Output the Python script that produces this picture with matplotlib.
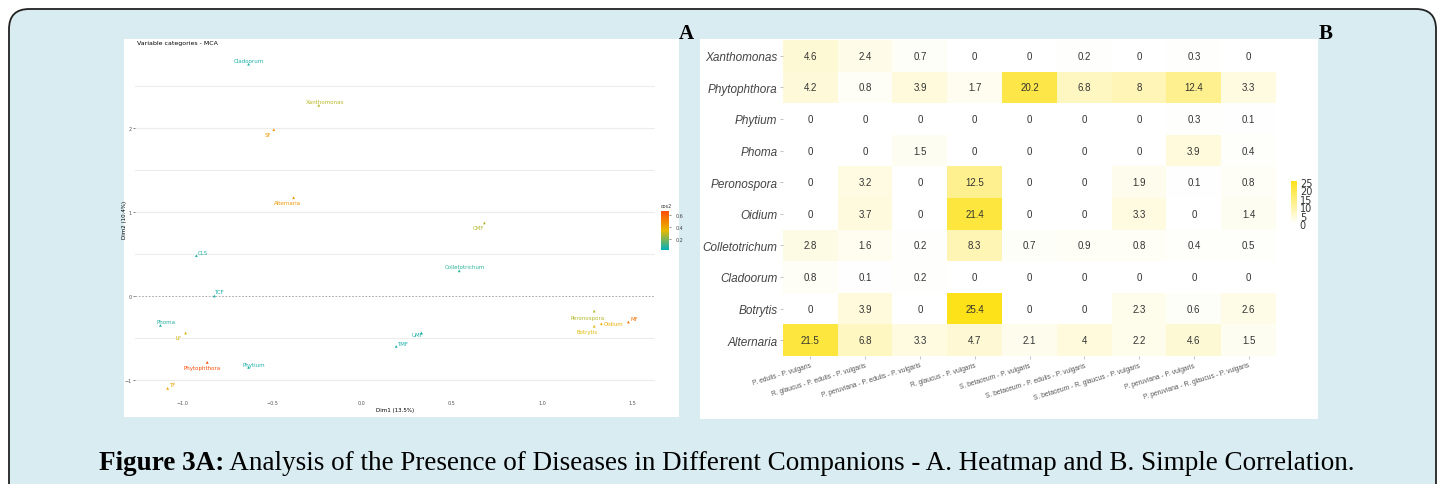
import numpy as np
import matplotlib
matplotlib.use('Agg')
import matplotlib.pyplot as plt
from matplotlib.colors import LinearSegmentedColormap, Normalize
from matplotlib.patches import FancyBboxPatch, Rectangle

# ---- data: MCA variable categories (panel A) ----
mca_names = ['Cladoorum', 'Xanthomonas', 'SF', 'Alternaria', 'CMF', 'CLS', 'TCF',
             'Colletotrichum', 'Phoma', 'LF', 'Phytophthora', 'Phytium', 'TF',
             'UMF', 'TMF', 'Peronospora', 'Oidium', 'Botrytis', 'MF']
mca_dim1 = [-0.63, -0.24, -0.49, -0.38, 0.68, -0.92, -0.82, 0.54, -1.12, -0.98,
            -0.86, -0.63, -1.08, 0.33, 0.19, 1.29, 1.33, 1.29, 1.48]
mca_dim2 = [2.76, 2.27, 1.98, 1.17, 0.87, 0.48, 0.00, 0.30, -0.35, -0.44,
            -0.79, -0.85, -1.10, -0.44, -0.60, -0.18, -0.33, -0.36, -0.31]
mca_cos2 = [0.06, 0.28, 0.44, 0.45, 0.27, 0.07, 0.05, 0.08, 0.07, 0.32,
            0.67, 0.06, 0.40, 0.06, 0.05, 0.27, 0.37, 0.34, 0.56]

# ---- data: heatmap (panel B) ----
diseases = ['Xanthomonas', 'Phytophthora', 'Phytium', 'Phoma', 'Peronospora',
            'Oidium', 'Colletotrichum', 'Cladoorum', 'Botrytis', 'Alternaria']
companions = ['P. edulis - P. vulgaris',
              'R. glaucus - P. edulis - P. vulgaris',
              'P. peruviana - P. edulis - P. vulgaris',
              'R. glaucus - P. vulgaris',
              'S. betaceum - P. vulgaris',
              'S. betaceum - P. edulis - P. vulgaris',
              'S. betaceum - R. glaucus - P. vulgaris',
              'P. peruviana - P. vulgaris',
              'P. peruviana - R. glaucus - P. vulgaris']
presence = [
    [4.6, 2.4, 0.7, 0, 0, 0.2, 0, 0.3, 0],
    [4.2, 0.8, 3.9, 1.7, 20.2, 6.8, 8, 12.4, 3.3],
    [0, 0, 0, 0, 0, 0, 0, 0.3, 0.1],
    [0, 0, 1.5, 0, 0, 0, 0, 3.9, 0.4],
    [0, 3.2, 0, 12.5, 0, 0, 1.9, 0.1, 0.8],
    [0, 3.7, 0, 21.4, 0, 0, 3.3, 0, 1.4],
    [2.8, 1.6, 0.2, 8.3, 0.7, 0.9, 0.8, 0.4, 0.5],
    [0.8, 0.1, 0.2, 0, 0, 0, 0, 0, 0],
    [0, 3.9, 0, 25.4, 0, 0, 2.3, 0.6, 2.6],
    [21.5, 6.8, 3.3, 4.7, 2.1, 4, 2.2, 4.6, 1.5],
]

W, H = 1442, 485
BG = '#d8ecf1'


def rect(x0, y0, x1, y1):
    """pixel box (top-left origin) -> figure fraction [l, b, w, h]"""
    return [x0 / W, 1 - y1 / H, (x1 - x0) / W, (y1 - y0) / H]


fig = plt.figure(figsize=(W / 100, H / 100), dpi=100)
fig.patch.set_facecolor('white')

# rounded frame + white panel backgrounds (behind the axes)
frame = FancyBboxPatch((9 / W, -0.05), 1427 / W, 1 - 10 / H + 0.05,
                       boxstyle='round,pad=0,rounding_size=0.014',
                       transform=fig.transFigure, facecolor=BG, edgecolor='#222222',
                       linewidth=1.3, mutation_aspect=W / H, zorder=-3)
fig.patches.append(frame)
for box in [(124, 40, 679, 418), (700, 40, 1318, 420)]:
    l, b, w, h = rect(*box)
    fig.patches.append(Rectangle((l, b), w, h, transform=fig.transFigure,
                                 facecolor='white', edgecolor='none', zorder=-2))

# ---------------- panel A : MCA ----------------
ax = fig.add_axes(rect(135, 40, 655, 400))
ax.set_xlim((135 - 362) / 180, (655 - 362) / 180)
ax.set_ylim((297 - 400) / 84, (297 - 40) / 84)
for s in ax.spines.values():
    s.set_visible(False)
for yv in [-1, -0.5, 0.5, 1, 1.5, 2, 2.5]:
    ax.axhline(yv, color='#ececec', lw=0.8, zorder=0)
ax.axhline(0, color='#9a9a9a', lw=0.6, ls=(0, (2, 2)), zorder=1)

cmap_a = LinearSegmentedColormap.from_list('fviz', ['#00AFBB', '#E7B800', '#FC4E07'])
norm_a = Normalize(0.02, 0.67)
cols = cmap_a(norm_a(np.array(mca_cos2)))
ax.scatter(mca_dim1, mca_dim2, c=cols, marker='^', s=4, linewidths=0, zorder=3)

label_offsets = {'Cladoorum': (0, 4), 'Xanthomonas': (6, 4), 'SF': (-6, -5),
                 'Alternaria': (-6, -5), 'CMF': (-6, -5), 'CLS': (6, 3), 'TCF': (5, 4),
                 'Colletotrichum': (6, 4), 'Phoma': (6, 4), 'LF': (-7, -5),
                 'Phytophthora': (-5, -5), 'Phytium': (5, 3), 'TF': (5, 4),
                 'UMF': (-4, -2), 'TMF': (6, 3), 'Peronospora': (-7, -6),
                 'Oidium': (12, 0), 'Botrytis': (-7, -5), 'MF': (6, 4)}
for name, x, y, c in zip(mca_names, mca_dim1, mca_dim2, cols):
    ox, oy = label_offsets[name]
    ax.annotate(name, (x, y), xytext=(ox, oy), textcoords='offset pixels',
                ha='center', va='center', fontsize=4, color=c, zorder=4)

ax.set_xticks([-1.0, -0.5, 0.0, 0.5, 1.0, 1.5])
ax.set_yticks([-1, 0, 1, 2])
ax.tick_params(labelsize=3.5, colors='#555555', length=1.5, width=0.5, pad=1)
ax.tick_params(axis='x', length=0)
ax.set_xlabel('Dim1 (13.5%)', fontsize=4, labelpad=1)
ax.set_ylabel('Dim2 (10.4%)', fontsize=4)
ax.yaxis.set_label_coords(-8 / 520, 0.5)
fig.text(137 / W, 1 - 43 / H, 'Variable categories - MCA', fontsize=4.5, va='center')

cax_a = fig.add_axes(rect(661, 212, 669, 251))
cb_a = fig.colorbar(plt.cm.ScalarMappable(norm=norm_a, cmap=cmap_a), cax=cax_a)
cb_a.set_ticks([0.2, 0.4, 0.6])
cb_a.outline.set_visible(False)
cax_a.tick_params(labelsize=3.5, length=1.5, width=0.4, colors='#444444')
fig.text(661 / W, 1 - 207 / H, 'cos2', fontsize=3.5, va='center', color='#333333')

# ---------------- panel B : heatmap ----------------
hx = fig.add_axes(rect(783, 41, 1276, 357))
data = np.array(presence)
cmap_b = LinearSegmentedColormap.from_list('wy', ['#ffffff', '#fde21a'])
im = hx.imshow(data, cmap=cmap_b, vmin=0, vmax=data.max(), aspect='auto')
for i in range(data.shape[0]):
    for j in range(data.shape[1]):
        hx.text(j, i, f'{data[i, j]:g}', ha='center', va='center', fontsize=7,
                color='#333333', family='Liberation Sans')
for s in hx.spines.values():
    s.set_visible(False)
hx.set_yticks(range(len(diseases)))
hx.set_yticklabels(diseases, fontsize=8.5, style='italic', color='#444444',
                   family='Liberation Sans')
hx.set_xticks(range(len(companions)))
hx.set_xticklabels(companions, fontsize=4.8, rotation=17, ha='right',
                   rotation_mode='anchor', color='#555555', family='Liberation Sans')
hx.tick_params(length=2, width=0.5, color='#aaaaaa', pad=2)

cax_b = fig.add_axes(rect(1291, 182, 1297, 225))
cb_b = fig.colorbar(im, cax=cax_b)
cb_b.set_ticks([0, 5, 10, 15, 20, 25])
cb_b.outline.set_visible(False)
cax_b.tick_params(labelsize=7, length=0, pad=2, colors='#333333')

# panel letters and caption
fig.text(686 / W, 1 - 34 / H, 'A', fontsize=15, fontweight='bold', family='Liberation Serif',
         ha='center', va='center')
fig.text(1326 / W, 1 - 34 / H, 'B', fontsize=15, fontweight='bold', family='Liberation Serif',
         ha='center', va='center')

cap_bold = 'Figure 3A:'
cap_rest = (' Analysis of the Presence of Diseases in Different Companions - '
            'A. Heatmap and B. Simple Correlation.')
t1 = fig.text(0, 1 - 464 / H, cap_bold, fontsize=19.5, fontweight='bold',
              family='Liberation Serif', va='center')
t2 = fig.text(0, 1 - 464 / H, cap_rest, fontsize=19.5, family='Liberation Serif', va='center')
fig.canvas.draw()
r = fig.canvas.get_renderer()
w1 = t1.get_window_extent(r).width
w2 = t2.get_window_extent(r).width
x0 = (727 - (w1 + w2) / 2) / W
t1.set_x(x0)
t2.set_x(x0 + w1 / W)

fig.savefig('out.png', dpi=100)
